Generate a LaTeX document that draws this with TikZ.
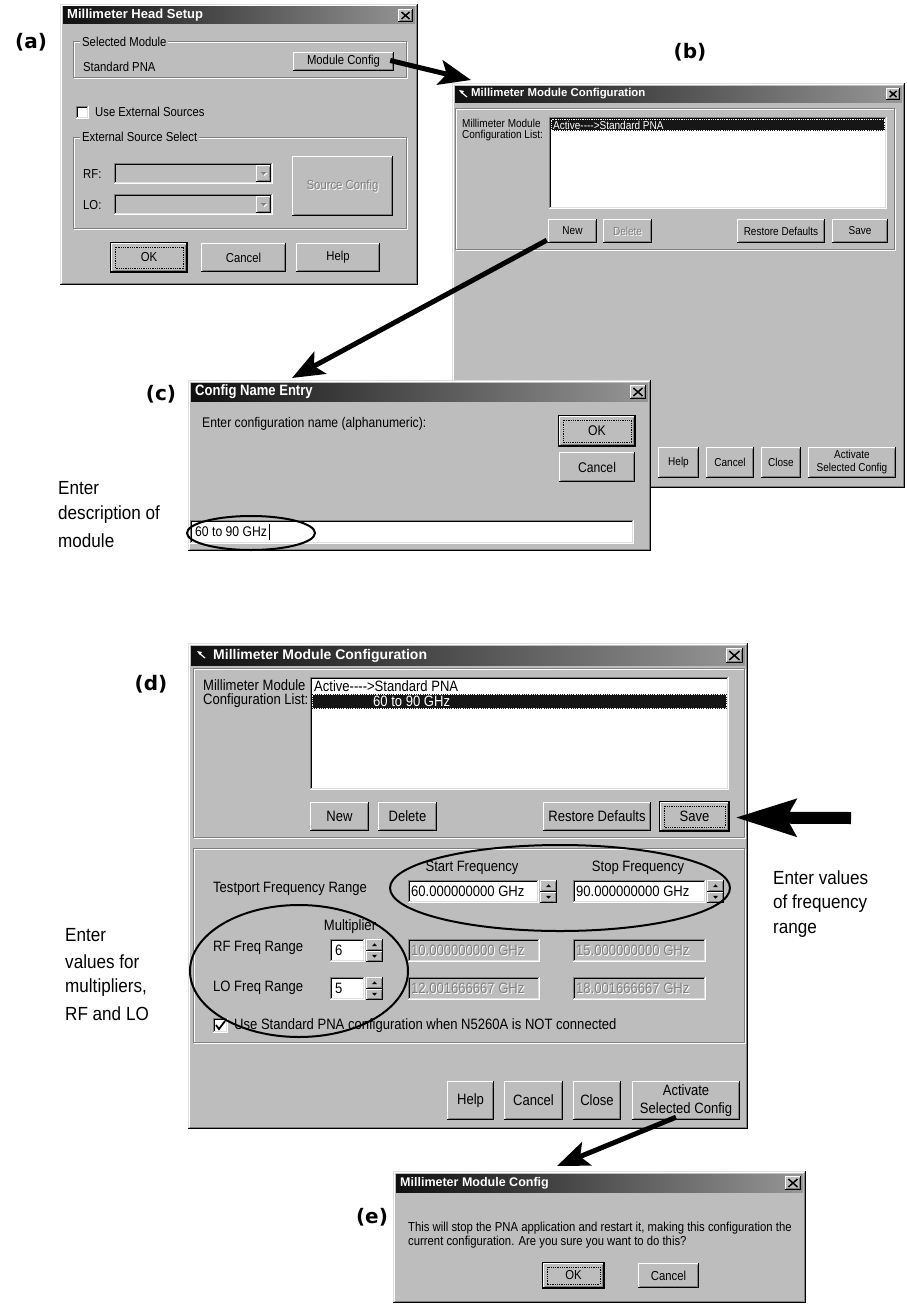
\documentclass[tikz,border=0pt]{standalone}
\usepackage{fontspec}
\setmainfont{Liberation Sans}
\newfontfamily\ui[FakeStretch=0.87]{Liberation Sans}
\newfontfamily\cond[FakeStretch=0.9]{Liberation Sans}
\newfontfamily\tagfont{DejaVu Sans}
\usetikzlibrary{arrows.meta,calc}

\definecolor{face}{RGB}{189,189,189}
\definecolor{shadow}{RGB}{128,128,128}
\definecolor{lite}{RGB}{223,223,223}
\definecolor{greytxt}{RGB}{128,128,128}
\definecolor{seldark}{RGB}{22,22,22}
\definecolor{titleA}{RGB}{15,15,15}
\definecolor{titleB}{RGB}{150,150,150}

\def\dfs{\fontsize{12}{14}\selectfont}
\def\tfs{\bfseries\fontsize{12}{14}\selectfont}

\tikzset{
  txt/.style={inner sep=0pt, anchor=west, font=\ui\dfs},
  ctxt/.style={inner sep=0pt, font=\ui\dfs},
  ttl/.style={inner sep=0pt, anchor=west, text=white, font=\tfs},
  note/.style={inner sep=0pt, anchor=west, font=\cond\fontsize{19}{22}\selectfont},
  tag/.style={inner sep=0pt, font=\tagfont\bfseries\fontsize{20}{24}\selectfont},
  ring/.style={draw=black, line width=2pt},
  pointer/.style={draw=black, line width=5pt, -{Stealth[length=32pt,width=25pt,inset=7pt]}},
  bigpointer/.style={draw=black, line width=12pt, -{Stealth[length=60pt,width=36pt,inset=9pt]}},
}

% raised 3D face (buttons)
\newcommand\Raised[4]{%
  \fill[face] ({#1},{#2}) rectangle ({#3},{#4});
  \draw[white,line width=1pt] ({#1+.5},{#4-1}) |- ({#3-1},{#2+.5});
  \draw[black,line width=1pt] ({#1},{#4-.5}) -| ({#3-.5},{#2});
  \draw[shadow,line width=1pt] ({#1+1.5},{#4-1.5}) -| ({#3-1.5},{#2+1.5});
}
% sunken 3D well (edit fields, list boxes, check boxes)
\newcommand\Sunken[5]{%
  \fill[#5] ({#1},{#2}) rectangle ({#3},{#4});
  \draw[shadow,line width=1pt] ({#1+.5},{#4-1}) |- ({#3-1},{#2+.5});
  \draw[black,line width=1pt] ({#1+1.5},{#4-2}) |- ({#3-2},{#2+1.5});
  \draw[white,line width=1pt] ({#1},{#4-.5}) -| ({#3-.5},{#2});
  \draw[lite,line width=1pt] ({#1+1},{#4-1.5}) -| ({#3-1.5},{#2+1});
}
% etched group frame
\newcommand\Etched[4]{%
  \draw[white,line width=1pt] ({#1+1},{#2+1}) rectangle ({#3},{#4});
  \draw[shadow,line width=1pt] ({#1},{#2}) rectangle ({#3-1},{#4-1});
}
% window frame
\newcommand\Frame[4]{%
  \fill[face] ({#1},{#2}) rectangle ({#3},{#4});
  \draw[lite,line width=1pt] ({#1+.5},{#4-1}) |- ({#3-1},{#2+.5});
  \draw[white,line width=1pt] ({#1+1.5},{#4-2}) |- ({#3-2},{#2+1.5});
  \draw[black,line width=1.5pt] ({#1},{#4-.75}) -| ({#3-.75},{#2});
  \draw[shadow,line width=1pt] ({#1+1.5},{#4-2}) -| ({#3-2},{#2+1.5});
}
% caption bar with close box: name, x1, y1, x2, y2, text x, text
\newcommand\Title[7]{%
  \shade[left color=titleA,right color=titleB] ({#2},{#3}) rectangle ({#4},{#5});
  \node[ttl] (#1) at ({#6},{(#3+#5)/2}) {#7};
  \pgfmathsetmacro\tbh{#5-#3-4}%
  \pgfmathsetmacro\tbx{#4-2-\tbh*1.15}%
  \Raised{\tbx}{#3+2}{#4-2}{#5-2}%
  \draw[black,line width=1.5pt] ({\tbx+3.5},{#3+5}) -- ({#4-5.5},{#5-5})
                                ({\tbx+3.5},{#5-5}) -- ({#4-5.5},{#3+5});
}
% small window icon
\newcommand\Icon[2]{%
  \fill[white] ({#1},{#2}) -- ({#1+5},{#2+1}) -- ({#1+3},{#2+4}) -- cycle;
  \draw[white,line width=1.2pt] ({#1+2},{#2+2}) -- ({#1+8},{#2+7});
}
% push button: name, x1, y1, x2, y2, caption
\newcommand\Btn[6]{%
  \Raised{#2}{#3}{#4}{#5}%
  \node[ctxt, align=center, minimum width={#4-(#2)}, minimum height={#5-(#3)}]
    (#1) at ({(#2+#4)/2},{(#3+#5)/2}) {#6};
}
% default push button with dark rim and focus rectangle
\newcommand\DefBtn[6]{%
  \Btn{#1}{#2+1}{#3+1}{#4-1}{#5-1}{#6}%
  \draw[black,line width=1pt] ({#2+.5},{#3+.5}) rectangle ({#4-.5},{#5-.5});
  \draw[black,line width=.7pt,dash pattern=on .9pt off .9pt] ({#2+5},{#3+5}) rectangle ({#4-5},{#5-5});
}
% disabled caption (embossed), centred or left aligned
\newcommand\Greyed[4]{%
  \node[ctxt,text=white] (#1w) at ({#2+1},{#3+1}) {#4};
  \node[ctxt,text=greytxt] (#1) at ({#2},{#3}) {#4};
}
\newcommand\GreyedL[4]{%
  \node[txt,text=white] (#1w) at ({#2+1},{#3+1}) {#4};
  \node[txt,text=greytxt] (#1) at ({#2},{#3}) {#4};
}
% spin buttons
\newcommand\Spin[4]{%
  \pgfmathsetmacro\smid{(#2+#4)/2}%
  \pgfmathsetmacro\scx{(#1+#3)/2}%
  \Raised{#1}{#2}{#3}{\smid}%
  \Raised{#1}{\smid}{#3}{#4}%
  \fill ({\scx-2.5},{(#2+\smid)/2+1.3}) -- ({\scx+2.5},{(#2+\smid)/2+1.3}) -- ({\scx},{(#2+\smid)/2-1.3}) -- cycle;
  \fill ({\scx-2.5},{(\smid+#4)/2-1.3}) -- ({\scx+2.5},{(\smid+#4)/2-1.3}) -- ({\scx},{(\smid+#4)/2+1.3}) -- cycle;
}
% disabled drop-down list
\newcommand\Combo[4]{%
  \Sunken{#1}{#2}{#3}{#4}{face}%
  \Raised{#3-17}{#2+2}{#3-2}{#4-2}%
  \pgfmathsetmacro\ccx{#3-9.5}%
  \pgfmathsetmacro\ccy{(#2+#4)/2}%
  \fill[white] ({\ccx-2},{\ccy-.5}) -- ({\ccx+4},{\ccy-.5}) -- ({\ccx+1},{\ccy+2.5}) -- cycle;
  \fill[greytxt] ({\ccx-3},{\ccy-1.5}) -- ({\ccx+3},{\ccy-1.5}) -- ({\ccx},{\ccy+1.5}) -- cycle;
}

\begin{document}
\begin{tikzpicture}[x=1pt,y=-1pt]
\path[use as bounding box] (0,0) rectangle (907,1306);
\fill[white] (0,0) rectangle (907,1306);

% ---------------- Millimeter Head Setup
\def\dfs{\fontsize{13}{15}\selectfont}
\def\tfs{\bfseries\fontsize{13}{15}\selectfont}
\Frame{60}{4}{418}{285}
\Title{ttlA}{63}{7}{415}{24}{67}{Millimeter Head Setup}
\Etched{73}{42}{407}{78}
\node[txt,fill=face,inner xsep=2pt] (grpA1) at (80,42) {Selected Module};
\node[txt] (stdA) at (83,67) {Standard PNA};
\Btn{modcfg}{293}{52}{394}{71}{Module Config}
\Sunken{76}{106}{89}{119}{white}
\node[txt] (extA) at (95,112) {Use External Sources};
\Etched{73}{137}{407}{229}
\node[txt,fill=face,inner xsep=2pt] (grpA2) at (80,137) {External Source Select};
\node[txt] (rfA) at (83,174) {RF:};
\Combo{114}{163}{273}{184}
\node[txt] (loA) at (83,205) {LO:};
\Combo{114}{194}{273}{215}
\Raised{292}{156}{393}{216}
\Greyed{srcA}{342.5}{186}{Source Config}
\DefBtn{okA}{110}{242}{188}{273}{OK}
\Btn{cancelA}{201}{243}{286}{272}{Cancel}
\Btn{helpA}{296}{243}{380}{272}{Help}

% ---------------- Millimeter Module Configuration (initial)
\def\dfs{\fontsize{11.5}{13}\selectfont}
\def\tfs{\bfseries\fontsize{11.4}{13}\selectfont}
\Frame{452}{83}{905}{488}
\Title{ttlB}{455}{86}{902}{102}{471}{Millimeter Module Configuration}
\Icon{459}{90}
\Etched{455}{108}{895}{250}
\node[txt] (lblB1) at (462,123) {Millimeter Module};
\node[txt] (lblB2) at (462,136) {Configuration List:};
\Sunken{549}{117}{887}{209}{white}
\fill[seldark] (551,119) rectangle (885,131);
\draw[white,line width=.6pt,dash pattern=on .9pt off .9pt] (551.5,119.5) rectangle (884.5,130.5);
\node[txt,text=white] (rowB) at (553,125) {Active{-}{-}{-}{-}>Standard PNA};
\Btn{newB}{548}{219}{597}{243}{New}
\Raised{603}{219}{652}{243}
\Greyed{delB}{627.5}{231}{Delete}
\Btn{restB}{737}{219}{825}{243}{Restore Defaults}
\Btn{saveB}{832}{219}{888}{243}{Save}
\Btn{helpB}{658}{447}{699}{478}{Help}
\Btn{cancelB}{706}{447}{754}{478}{Cancel}
\Btn{closeB}{761}{447}{801}{478}{Close}
\Btn{actB}{808}{447}{896}{478}{Activate\\Selected Config}

% ---------------- Config Name Entry
\def\dfs{\fontsize{14}{16}\selectfont}
\def\tfs{\ui\bfseries\fontsize{15}{17}\selectfont}
\Frame{188}{380}{651}{551}
\Title{ttlC}{191}{383}{648}{401}{195}{Config Name Entry}
\node[txt] (promptC) at (202,424) {Enter configuration name (alphanumeric):};
\DefBtn{okC}{558}{415}{636}{447}{OK}
\Btn{cancelC}{559}{452}{635}{482}{Cancel}
\Sunken{190}{520}{634}{544}{white}
\node[txt] (valC) at (195,532) {60 to 90 GHz};
\draw[line width=1pt] ($(valC.east)+(2,-8)$) -- ($(valC.east)+(2,8)$);
\draw[ring] (251,533) ellipse [x radius=64, y radius=17];

% ---------------- Millimeter Module Configuration (new entry)
\def\dfs{\fontsize{15}{18}\selectfont}
\def\tfs{\bfseries\fontsize{14}{16}\selectfont}
\Frame{188}{643}{748}{1129}
\Title{ttlD}{191}{646}{745}{665}{213}{Millimeter Module Configuration}
\Icon{197}{651}
\Etched{193}{668}{745}{838}
\node[txt] (lblD1) at (203,685) {Millimeter Module};
\node[txt] (lblD2) at (203,701) {Configuration List:};
\Sunken{310}{677}{729}{790}{white}
\node[txt] (row1D) at (314,686) {Active{-}{-}{-}{-}>Standard PNA};
\fill[seldark] (312,694) rectangle (727,709);
\draw[white,line width=.6pt,dash pattern=on .9pt off .9pt] (312.5,694.5) rectangle (726.5,708.5);
\node[txt,text=white] (row2D) at (373,701.5) {60 to 90 GHz};
\Btn{newD}{310}{802}{369}{831}{New}
\Btn{delD}{378}{802}{437}{831}{Delete}
\Btn{restD}{543}{802}{651}{831}{Restore Defaults}
\DefBtn{saveD}{659}{801}{730}{832}{Save}
\Etched{193}{848}{745}{1043}
\node[txt] (tpD) at (213,889) {Testport Frequency Range};
\node[ctxt] (startD) at (472,868) {Start Frequency};
\node[ctxt] (stopD) at (638,868) {Stop Frequency};
\Sunken{408}{880}{539}{903}{white}
\node[txt] (f1D) at (411,891.5) {60.000000000 GHz};
\Spin{540}{880}{557}{903}
\Sunken{573}{880}{706}{903}{white}
\node[txt] (f2D) at (576,891.5) {90.000000000 GHz};
\Spin{707}{880}{724}{903}
\node[ctxt] (multD) at (350,927) {Multiplier};
\node[txt] (rfD) at (213,948) {RF Freq Range};
\Sunken{330}{939}{365}{962}{white}
\node[txt] (m1D) at (335,950.5) {6};
\Spin{366}{939}{383}{962}
\Sunken{408}{939}{540}{962}{face}
\GreyedL{rf1D}{411}{950.5}{10.000000000 GHz}
\Sunken{573}{939}{706}{962}{face}
\GreyedL{rf2D}{576}{950.5}{15.000000000 GHz}
\node[txt] (loD) at (213,988) {LO Freq Range};
\Sunken{330}{977}{365}{1000}{white}
\node[txt] (m2D) at (335,988.5) {5};
\Spin{366}{977}{383}{1000}
\Sunken{408}{977}{540}{1000}{face}
\GreyedL{lo1D}{411}{988.5}{12.001666667 GHz}
\Sunken{573}{977}{706}{1000}{face}
\GreyedL{lo2D}{576}{988.5}{18.001666667 GHz}
\Sunken{213}{1018}{228}{1033}{white}
\draw[line width=1.8pt] (216,1025) -- (219,1029) -- (225,1021);
\node[txt] (useD) at (234,1026) {Use Standard PNA configuration when N5260A is NOT connected};
\Btn{helpD}{447}{1081}{494}{1120}{Help}
\Btn{cancelD}{504}{1081}{563}{1120}{Cancel}
\Btn{closeD}{573}{1081}{621}{1120}{Close}
\Btn{actD}{632}{1081}{740}{1120}{Activate\\Selected Config}
\draw[ring] (560,888) ellipse [x radius=170, y radius=43];
\draw[ring] (299,971) ellipse [x radius=109, y radius=66];

% ---------------- confirmation box
\def\dfs{\fontsize{13}{15}\selectfont}
\def\tfs{\bfseries\fontsize{12.5}{14}\selectfont}
\Frame{393}{1171}{806}{1303}
\Title{ttlE}{396}{1174}{803}{1192}{400}{Millimeter Module Config}
\node[txt] (msgE1) at (408,1228) {This will stop the PNA application and restart it, making this configuration the};
\node[txt] (msgE2) at (408,1242) {current configuration. Are you sure you want to do this?};
\DefBtn{okE}{542}{1262}{605}{1289}{OK}
\Btn{cancelE}{638}{1263}{699}{1288}{Cancel}

% ---------------- step labels and notes
\node[tag] (tagA) at (31,42) {(a)};
\node[tag] (tagB) at (690,52) {(b)};
\node[tag] (tagC) at (161,394) {(c)};
\node[tag] (tagD) at (151,684) {(d)};
\node[tag] (tagE) at (372,1217) {(e)};
\node[note] (noteC1) at (58,488) {Enter};
\node[note] (noteC2) at (58,515) {description of};
\node[note] (noteC3) at (58,541) {module};
\node[note] (noteF1) at (773,878) {Enter values};
\node[note] (noteF2) at (773,904) {of frequency};
\node[note] (noteF3) at (773,930) {range};
\node[note] (noteM1) at (65,935) {Enter};
\node[note] (noteM2) at (65,962) {values for};
\node[note] (noteM3) at (65,988) {multipliers,};
\node[note] (noteM4) at (65,1014) {RF and LO};

% ---------------- connectors
\coordinate (tipB) at (471,80);
\coordinate (tipC) at (292,378);
\coordinate (tailSave) at (851,818);
\coordinate (tipSave) at ($(saveD.east)+(6,1)$);
\coordinate (tipE) at (557,1166);
\draw[pointer] ($(modcfg.east)+(-4,-1)$) -- (tipB);
\draw[pointer] ($(newB.south west)+(-1,-3)$) -- (tipC);
\draw[bigpointer] (tailSave) -- (tipSave);
\draw[pointer] ($(actD.south)+(-10,-3)$) -- (tipE);
\end{tikzpicture}
\end{document}
